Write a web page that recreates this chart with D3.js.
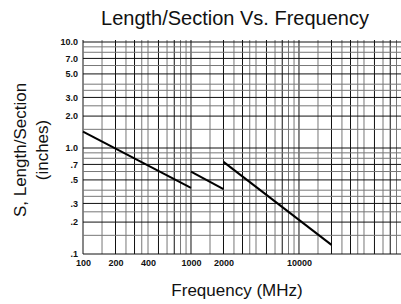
<!DOCTYPE html>
<html lang="en">
  <head>
    <meta charset="UTF-8" />
    <title>Length/Section Vs. Frequency</title>
    <style>
      * { margin: 0; padding: 0; }
      body { background: #fff; }
      text { font-family: "Liberation Sans", Arial, sans-serif; fill: #111; }
    </style>
  </head>
  <body>
    <script src="https://d3js.org/d3.v7.min.js"></script>
    <script>
      // three curve segments (MHz -> inches)
      const freqA = [100, 1000];
      const lenA = [1.43, 0.42];
      const freqB = [1000, 2000];
      const lenB = [0.6, 0.41];
      const freqC = [2000, 20000];
      const lenC = [0.74, 0.122];

      const xTickLabels = [100, 200, 400, 1000, 2000, 10000];
      const yTickValues = [10, 7, 5, 3, 2, 1, 0.7, 0.5, 0.3, 0.2, 0.1];
      const yTickText = ["10.0", "7.0", "5.0", "3.0", "2.0", "1.0", ".7", ".5", ".3", ".2", ".1"];
      // grid mantissas per decade
      const gridSteps = [1, 1.5, 2, 2.5, 3, 3.5, 4, 5, 6, 7, 8, 9];

      const width = 401;
      const height = 304;

      const svg = d3.select("body").append("svg")
        .attr("width", width)
        .attr("height", height);

      const x = d3.scaleLog().domain([100, 80000]).range([83, 396.5]);
      const y = d3.scaleLog().domain([0.1, 10]).range([254, 42]);

      // grid lines
      const xGrid = [];
      [100, 1000, 10000].forEach(d => gridSteps.forEach(m => {
        const v = d * m;
        if (v <= 80000) xGrid.push(v);
      }));
      const yGrid = [];
      [0.1, 1].forEach(d => gridSteps.forEach(m => yGrid.push(d * m)));
      yGrid.push(10);

      const dark = m => [1, 2, 3, 5, 7].includes(m);
      const mant = v => +(v / Math.pow(10, Math.floor(Math.log10(v) + 1e-9))).toFixed(2);

      const grid = svg.append("g");
      grid.selectAll("line.v")
        .data(xGrid)
        .join("line")
        .attr("class", "v")
        .attr("x1", d => x(d)).attr("x2", d => x(d))
        .attr("y1", y(10) - 2).attr("y2", y(0.1))
        .attr("stroke", d => dark(mant(d)) ? "#111" : "#777")
        .attr("stroke-width", 1);

      grid.selectAll("line.h")
        .data(yGrid)
        .join("line")
        .attr("class", "h")
        .attr("x1", x(100)).attr("x2", width)
        .attr("y1", d => y(d)).attr("y2", d => y(d))
        .attr("stroke", d => dark(mant(d)) ? "#111" : "#777")
        .attr("stroke-width", 1);

      // curve segments
      const line = d3.line().x(d => x(d[0])).y(d => y(d[1]));
      [[freqA, lenA], [freqB, lenB], [freqC, lenC]].forEach(([f, l]) => {
        svg.append("path")
          .datum(f.map((v, i) => [v, l[i]]))
          .attr("d", line)
          .attr("fill", "none")
          .attr("stroke", "#000")
          .attr("stroke-width", 2);
      });

      // x tick labels
      const xAxis = d3.axisBottom(x).tickValues(xTickLabels).tickFormat(d3.format("d")).tickSize(0).tickPadding(6);
      const gx = svg.append("g").attr("transform", `translate(0,${y(0.1)})`).call(xAxis);
      gx.select(".domain").remove();
      gx.selectAll("text")
        .style("font-family", '"Liberation Sans", Arial, sans-serif')
        .style("font-size", "9px")
        .style("font-weight", "bold")
        .attr("fill", "#111");

      // y tick labels
      const yAxis = d3.axisLeft(y).tickValues(yTickValues)
        .tickFormat((d, i) => yTickText[i]).tickSize(0).tickPadding(5);
      const gy = svg.append("g").attr("transform", `translate(${x(100)},0)`).call(yAxis);
      gy.select(".domain").remove();
      gy.selectAll("text")
        .style("font-family", '"Liberation Sans", Arial, sans-serif')
        .style("font-size", "9px")
        .style("font-weight", "bold")
        .attr("fill", "#111");

      // titles
      svg.append("text")
        .attr("x", 235).attr("y", 25)
        .attr("text-anchor", "middle")
        .attr("font-size", "20px")
        .text("Length/Section Vs. Frequency");

      svg.append("text")
        .attr("x", 237).attr("y", 296)
        .attr("text-anchor", "middle")
        .attr("font-size", "17px")
        .text("Frequency (MHz)");

      const yTitle = svg.append("text")
        .attr("transform", "translate(26,150) rotate(-90)")
        .attr("text-anchor", "middle")
        .attr("font-size", "17px");
      yTitle.append("tspan").attr("x", 0).attr("y", 0).text("S, Length/Section");
      yTitle.append("tspan").attr("x", 0).attr("y", 22).text("(inches)");
    </script>
  </body>
</html>
